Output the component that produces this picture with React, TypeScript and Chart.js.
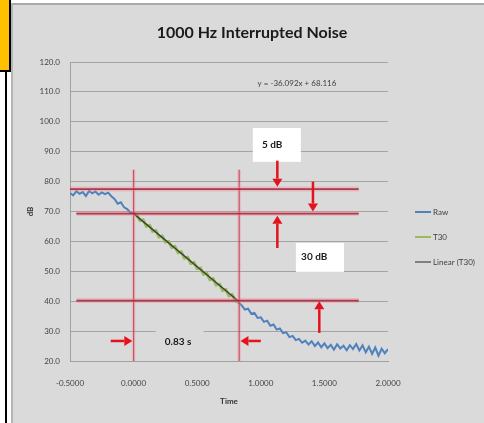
import React, { useEffect, useRef } from "react";
import { Chart, registerables } from "chart.js";
Chart.register(...registerables);

const FONT = "Lato, 'Open Sans', sans-serif";

// ---- data ----
const times = [
  -0.5, -0.475, -0.45, -0.425, -0.4, -0.375, -0.35, -0.325, -0.3, -0.275, -0.25, -0.225, -0.2, -0.175, -0.15,
  -0.125, -0.1, -0.075, -0.05, -0.025, 0, 0.025, 0.05, 0.075, 0.1, 0.125, 0.15, 0.175, 0.2, 0.225, 0.25, 0.275,
  0.3, 0.325, 0.35, 0.375, 0.4, 0.425, 0.45, 0.475, 0.5, 0.525, 0.55, 0.575, 0.6, 0.625, 0.65, 0.675, 0.7, 0.725,
  0.75, 0.775, 0.8, 0.825, 0.85, 0.875, 0.9, 0.925, 0.95, 0.975, 1, 1.025, 1.05, 1.075, 1.1, 1.125, 1.15, 1.175,
  1.2, 1.225, 1.25, 1.275, 1.3, 1.325, 1.35, 1.375, 1.4, 1.425, 1.45, 1.475, 1.5, 1.525, 1.55, 1.575, 1.6, 1.625,
  1.65, 1.675, 1.7, 1.725, 1.75, 1.775, 1.8, 1.825, 1.85, 1.875, 1.9, 1.925, 1.95, 1.975, 2,
];
const rawDb = [
  76.2, 75.4, 76.8, 75.9, 76.5, 75.2, 76.9, 76.1, 76.7, 75.6, 76.4, 75.8, 76.3, 75.1, 74.2, 72.6, 73.1, 71.4, 70.8,
  69.6, 69.5, 68.9, 67.0, 67.2, 65.1, 65.4, 63.4, 63.6, 61.5, 61.8, 59.8, 60.0, 58.0, 58.3, 56.2, 56.5, 54.4, 54.7,
  52.6, 52.9, 50.9, 51.1, 49.0, 49.3, 47.2, 47.5, 45.4, 45.7, 43.6, 43.9, 41.8, 42.2, 40.1, 39.6, 38.6, 37.2, 37.5,
  35.8, 36.1, 34.4, 34.6, 33.1, 33.5, 31.8, 32.2, 30.5, 30.9, 29.3, 29.6, 28.0, 28.4, 27.0, 27.4, 26.1, 26.8, 25.5,
  26.6, 25.0, 26.2, 24.6, 25.9, 24.3, 25.4, 23.8, 25.6, 24.2, 25.1, 23.6, 25.3, 24.0, 25.7, 23.5, 25.2, 22.9, 24.8,
  22.4, 24.5, 21.8, 24.1, 22.6, 24.0,
];
const t30FirstIndex = 20; // t = 0
const t30LastIndex = 53; // t = 0.825
const trendTimes = [0, 0.83];
const trendDb = [69.3, 39.8];

const seriesNames = ["Raw", "T30", "Linear (T30)"];
const seriesColors = ["#4f81bd", "#9bbb59", "#808080"];

const yMin = 20;
const yMax = 120;
const yStep = 10;
const xMin = -0.5;
const xMax = 2;
const xStep = 0.5;

const chartTitle = "1000 Hz Interrupted Noise";
const xTitle = "Time";
const yTitle = "dB";
const equationText = "y = -36.092x + 68.116";
const equationAt = [0.975, 112.8];

// reference lines (data units)
const refLevels = [77.5, 69.3, 40.2];
const refStarts = [-0.5, -0.45, -0.45];
const refEnd = 1.77;
const markerTimes = [0, 0.83];
const markerTop = 84;

// arrows: [x from, y from, x to (head), y to (head)]
const arrowList = [
  [1.13, 87, 1.13, 78.3],
  [1.41, 80, 1.41, 70],
  [1.13, 57.8, 1.13, 68.6],
  [1.46, 29.4, 1.46, 40],
  [-0.18, 26.7, -0.01, 26.7],
  [1.0, 26.7, 0.84, 26.7],
];

// annotation boxes
const noteTexts = ["5 dB", "30 dB", "0.83 s"];
const noteTextAt = [
  [1.09, 92.2],
  [1.42, 54.8],
  [0.35, 26.4],
];
const noteBoxes = [
  [0.937, 97.9, 1.315, 86.6],
  [1.276, 59.5, 1.654, 49.8],
  [0.173, 32.5, 0.551, 22],
];
const noteFills = ["#ffffff", "#ffffff", "#dadada"];

const decoPlugin = {
  id: "deco",
  afterDatasetsDraw(chart: any) {
    const ctx = chart.ctx as CanvasRenderingContext2D;
    const xs = chart.scales.x;
    const ys = chart.scales.y;
    const px = (v: number) => xs.getPixelForValue(v);
    const py = (v: number) => ys.getPixelForValue(v);
    ctx.save();
    const strokeV = (color: string, w: number) => {
      ctx.strokeStyle = color;
      ctx.lineWidth = w;
      markerTimes.forEach((t) => {
        ctx.beginPath();
        ctx.moveTo(px(t), py(markerTop));
        ctx.lineTo(px(t), py(yMin));
        ctx.stroke();
      });
    };
    strokeV("rgba(255,120,140,0.3)", 3.5);
    strokeV("rgba(190,40,60,0.7)", 1.2);
    const strokeH = (color: string, w: number) => {
      ctx.strokeStyle = color;
      ctx.lineWidth = w;
      refLevels.forEach((lv, i) => {
        ctx.beginPath();
        ctx.moveTo(px(refStarts[i]), py(lv));
        ctx.lineTo(px(refEnd), py(lv));
        ctx.stroke();
      });
    };
    strokeH("rgba(255,120,140,0.35)", 5);
    strokeH("rgba(150,30,50,0.8)", 1.8);
    noteBoxes.forEach((b, i) => {
      ctx.fillStyle = noteFills[i];
      const x0 = px(b[0]);
      const y0 = py(b[1]);
      ctx.fillRect(x0, y0, px(b[2]) - x0, py(b[3]) - y0);
    });
    ctx.fillStyle = "#1a1a1a";
    ctx.font = `bold 10px ${FONT}`;
    ctx.textAlign = "center";
    ctx.textBaseline = "middle";
    noteTexts.forEach((t, i) => {
      ctx.fillText(t, px(noteTextAt[i][0]), py(noteTextAt[i][1]));
    });
    ctx.strokeStyle = "#e3121c";
    ctx.fillStyle = "#e3121c";
    ctx.lineWidth = 2.5;
    arrowList.forEach((a) => {
      const x1 = px(a[0]);
      const y1 = py(a[1]);
      const x2 = px(a[2]);
      const y2 = py(a[3]);
      const ang = Math.atan2(y2 - y1, x2 - x1);
      const hl = 8;
      const hw = 5;
      const bx = x2 - hl * Math.cos(ang);
      const by = y2 - hl * Math.sin(ang);
      ctx.beginPath();
      ctx.moveTo(x1, y1);
      ctx.lineTo(bx, by);
      ctx.stroke();
      ctx.beginPath();
      ctx.moveTo(x2, y2);
      ctx.lineTo(bx + hw * Math.sin(ang), by - hw * Math.cos(ang));
      ctx.lineTo(bx - hw * Math.sin(ang), by + hw * Math.cos(ang));
      ctx.closePath();
      ctx.fill();
    });
    ctx.restore();
  },
  afterDraw(chart: any) {
    const ctx = chart.ctx as CanvasRenderingContext2D;
    const area = chart.chartArea;
    const xs = chart.scales.x;
    const ys = chart.scales.y;
    ctx.save();
    ctx.fillStyle = "#1a1a1a";
    ctx.font = `bold 16px ${FONT}`;
    ctx.textAlign = "center";
    ctx.textBaseline = "middle";
    ctx.fillText(chartTitle, 252, 33);
    ctx.font = `8px ${FONT}`;
    ctx.fillStyle = "#404040";
    ctx.textAlign = "left";
    ctx.fillText(equationText, xs.getPixelForValue(equationAt[0]), ys.getPixelForValue(equationAt[1]));
    ctx.font = `bold 8px ${FONT}`;
    ctx.fillStyle = "#333333";
    ctx.textAlign = "center";
    ctx.fillText(xTitle, (area.left + area.right) / 2, 401);
    ctx.save();
    ctx.translate(30, (area.top + area.bottom) / 2);
    ctx.rotate(-Math.PI / 2);
    ctx.fillText(yTitle, 0, 0);
    ctx.restore();
    ctx.font = `8px ${FONT}`;
    ctx.textAlign = "left";
    seriesNames.forEach((n, i) => {
      const y = 212 + i * 25;
      ctx.strokeStyle = seriesColors[i];
      ctx.lineWidth = 2;
      ctx.beginPath();
      ctx.moveTo(415, y);
      ctx.lineTo(431, y);
      ctx.stroke();
      ctx.fillStyle = "#404040";
      ctx.fillText(n, 433, y);
    });
    ctx.restore();
  },
};

export default function App() {
  const ref = useRef<HTMLCanvasElement | null>(null);
  useEffect(() => {
    document.body.style.margin = "0";
    if (!ref.current) return;
    const rawPts = times.map((t, i) => ({ x: t, y: rawDb[i] }));
    const t30Pts = times.slice(t30FirstIndex, t30LastIndex + 1).map((t, i) => ({ x: t, y: rawDb[t30FirstIndex + i] }));
    const trendPts = trendTimes.map((t, i) => ({ x: t, y: trendDb[i] }));
    const chart = new Chart(ref.current, {
      type: "line",
      data: {
        datasets: [
          {
            label: seriesNames[0],
            data: rawPts,
            borderColor: seriesColors[0],
            borderWidth: 2,
            pointRadius: 0,
            tension: 0,
            order: 3,
          },
          {
            label: seriesNames[1],
            data: t30Pts,
            borderColor: seriesColors[1],
            borderWidth: 3,
            pointRadius: 0,
            tension: 0,
            order: 2,
          },
          {
            label: seriesNames[2],
            data: trendPts,
            borderColor: "#3d4535",
            borderWidth: 1.5,
            pointRadius: 0,
            order: 1,
          },
        ],
      },
      options: {
        animation: false,
        responsive: false,
        devicePixelRatio: 1,
        parsing: false as any,
        layout: { padding: { top: 62, right: 96, bottom: 0, left: 0 } },
        plugins: { legend: { display: false }, title: { display: false }, tooltip: { enabled: false } },
        scales: {
          x: {
            type: "linear",
            min: xMin,
            max: xMax,
            ticks: {
              stepSize: xStep,
              callback: (v: any) => Number(v).toFixed(4),
              font: { family: FONT, size: 8 },
              color: "#444444",
              padding: 10,
              maxRotation: 0,
            },
            grid: { display: false },
            border: { color: "#a0a0a0", width: 1 },
            afterFit: (s: any) => {
              s.height = 62;
            },
          },
          y: {
            min: yMin,
            max: yMax,
            ticks: {
              stepSize: yStep,
              callback: (v: any) => Number(v).toFixed(1),
              font: { family: FONT, size: 8 },
              color: "#444444",
              padding: 10,
            },
            grid: { color: "#a3a3a3", lineWidth: 1, drawTicks: false },
            border: { color: "#a0a0a0", width: 1 },
            afterFit: (s: any) => {
              s.width = 70;
            },
          },
        },
      },
      plugins: [decoPlugin],
    });
    return () => chart.destroy();
  }, []);

  return (
    <div style={{ position: "relative", width: 484, height: 423, background: "#ffffff", overflow: "hidden", filter: "blur(0.4px)" }}>
      <div style={{ position: "absolute", left: 0, top: 0, width: 9, height: 70, background: "#ffc000" }} />
      <div style={{ position: "absolute", left: 9, top: 0, width: 2, height: 72, background: "#000" }} />
      <div style={{ position: "absolute", left: 0, top: 70, width: 11, height: 2, background: "#000" }} />
      <div style={{ position: "absolute", left: 5, top: 72, width: 2, height: 351, background: "#000" }} />
      <div
        style={{
          position: "absolute",
          left: 11,
          top: 3,
          right: 0,
          bottom: 0,
          background: "#dadada",
          borderTop: "2px solid #a9a9a9",
          borderLeft: "2px solid #b5b5b5",
        }}
      />
      <canvas ref={ref} width={484} height={423} style={{ position: "absolute", left: 0, top: 0, width: 484, height: 423 }} />
    </div>
  );
}
